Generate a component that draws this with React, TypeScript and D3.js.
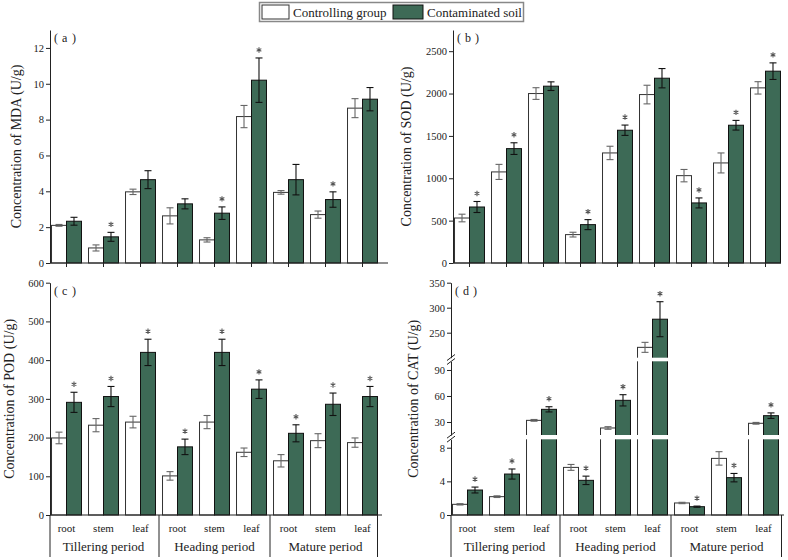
import { useEffect, useRef } from 'react';
import * as d3 from 'd3';

const organs = ['root', 'stem', 'leaf'];
const periods = ['Tillering period', 'Heading period', 'Mature period'];
const seriesNames = ['Controlling group', 'Contaminated soil'];

// MDA (U/g), 9 groups: period x organ
const mdaControl = [2.1, 0.84, 3.97, 2.63, 1.29, 8.17, 3.94, 2.7, 8.64];
const mdaControlErr = [0.05, 0.17, 0.15, 0.45, 0.12, 0.62, 0.1, 0.2, 0.53];
const mdaSoil = [2.33, 1.46, 4.65, 3.3, 2.78, 10.2, 4.65, 3.54, 9.14];
const mdaSoilErr = [0.22, 0.25, 0.5, 0.28, 0.35, 1.24, 0.85, 0.43, 0.65];
const mdaStars = [1, 4, 5, 7];
const mdaTicks = [0, 2, 4, 6, 8, 10, 12];

// SOD (U/g)
const sodControl = [531, 1075, 2000, 335, 1299, 1988, 1031, 1181, 2067];
const sodControlErr = [45, 89, 69, 28, 79, 110, 73, 118, 73];
const sodSoil = [661, 1350, 2087, 453, 1567, 2181, 709, 1626, 2264];
const sodSoilErr = [65, 69, 51, 59, 61, 114, 59, 57, 98];
const sodStars = [0, 1, 3, 4, 6, 7, 8];
const sodTicks = [0, 500, 1000, 1500, 2000, 2500];

// POD (U/g)
const podControl = [199, 232, 240, 101, 240, 162, 140, 192, 187];
const podControlErr = [15, 17, 15, 11, 17, 11, 16, 18, 12];
const podSoil = [291, 306, 420, 176, 420, 325, 211, 286, 306];
const podSoilErr = [26, 26, 34, 20, 34, 24, 22, 29, 26];
const podStars = [0, 1, 2, 3, 4, 5, 6, 7, 8];
const podTicks = [0, 100, 200, 300, 400, 500, 600];

// CAT (U/g), broken axis
const catControl = [1.27, 2.18, 31.9, 5.66, 23.1, 220.7, 1.43, 6.73, 28.5];
const catControlErr = [0.08, 0.1, 1, 0.35, 1.5, 10, 0.08, 0.8, 1];
const catSoil = [2.97, 4.87, 44.6, 4.12, 55, 277, 0.99, 4.44, 37.3];
const catSoilErr = [0.35, 0.6, 3, 0.5, 6.5, 35, 0.07, 0.5, 3.2];
const catStars = [0, 1, 2, 3, 4, 5, 6, 7, 8];
const catTicksLow = [0, 4, 8];
const catTicksMid = [30, 60, 90];
const catTicksHigh = [250, 300, 350];

const GREEN = '#3d6a56';
const FONT = '"Liberation Serif", "Times New Roman", serif';

type YFn = (v: number) => number;

interface Panel {
  axisX: number;
  top: number;
  base: number;
  xEnd: number;
  sepEnd: number;
  y: YFn;
  control: number[];
  controlErr: number[];
  soil: number[];
  soilErr: number[];
  stars: number[];
  letter: string;
  labelX: number;
  title: string;
  titleX: number;
  groupAxis: boolean;
}

const App = () => {
  const svgRef = useRef<SVGSVGElement>(null);

  useEffect(() => {
    if (!svgRef.current) return;
    const svg = d3.select(svgRef.current);
    svg.selectAll('*').remove();

    const yMda = d3.scaleLinear().domain([0, 13]).range([263, 30]);
    const ySod = d3.scaleLinear().domain([0, 2750]).range([263, 30]);
    const yPod = d3.scaleLinear().domain([0, 600]).range([515, 282.7]);
    const catLow = d3.scaleLinear().domain([0, 9]).range([515, 439.3]);
    const catMid = d3.scaleLinear().domain([15, 100]).range([435, 361.3]);
    const catHigh = d3.scaleLinear().domain([200, 350]).range([357.7, 282.7]);
    const yCat: YFn = v => (v <= 9 ? catLow(v) : v <= 100 ? catMid(v) : catHigh(v));

    const panels: Panel[] = [
      { axisX: 50, top: 30, base: 263, xEnd: 388, sepEnd: 0, y: yMda, control: mdaControl, controlErr: mdaControlErr,
        soil: mdaSoil, soilErr: mdaSoilErr, stars: mdaStars, letter: 'a', labelX: 54,
        title: 'Concentration of MDA (U/g)', titleX: 21, groupAxis: false },
      { axisX: 453, top: 30, base: 263, xEnd: 781, sepEnd: 0, y: ySod, control: sodControl, controlErr: sodControlErr,
        soil: sodSoil, soilErr: sodSoilErr, stars: sodStars, letter: 'b', labelX: 457,
        title: 'Concentration of SOD (U/g)', titleX: 411, groupAxis: false },
      { axisX: 50, top: 282.7, base: 515, xEnd: 382, sepEnd: 377.5, y: yPod, control: podControl, controlErr: podControlErr,
        soil: podSoil, soilErr: podSoilErr, stars: podStars, letter: 'c', labelX: 54,
        title: 'Concentration of POD (U/g)', titleX: 14, groupAxis: true },
      { axisX: 451, top: 282.7, base: 515, xEnd: 784, sepEnd: 781.5, y: yCat, control: catControl, controlErr: catControlErr,
        soil: catSoil, soilErr: catSoilErr, stars: catStars, letter: 'd', labelX: 455,
        title: 'Concentration of CAT (U/g)', titleX: 418, groupAxis: true },
    ];

    const styleAxis = (ax: d3.Selection<SVGGElement, unknown, null, undefined>) => {
      ax.select('.domain').attr('stroke', '#222');
      ax.selectAll('.tick line').attr('stroke', '#222');
      ax.selectAll('.tick text').attr('font-family', FONT).attr('font-size', 10.5).attr('fill', '#222');
    };

    const star = d3.symbol().type(d3.symbolAsterisk).size(20)();

    panels.forEach((p, pi) => {
      const g = svg.append('g');
      const x = d3.scaleBand<number>().domain(d3.range(9)).range([p.axisX - 2, p.axisX + 331]);
      const step = x.step();
      const bw = step * 0.405;
      const cx = (i: number) => (x(i) ?? 0) + step / 2;

      // bars
      g.selectAll('rect.ctrl')
        .data(p.control)
        .join('rect')
        .attr('x', (_, i) => cx(i) - bw)
        .attr('y', d => p.y(d))
        .attr('width', bw)
        .attr('height', d => p.base - p.y(d))
        .attr('fill', '#fff')
        .attr('stroke', '#333')
        .attr('stroke-width', 1);
      g.selectAll('rect.soil')
        .data(p.soil)
        .join('rect')
        .attr('x', (_, i) => cx(i))
        .attr('y', d => p.y(d))
        .attr('width', bw)
        .attr('height', d => p.base - p.y(d))
        .attr('fill', GREEN)
        .attr('stroke', '#111')
        .attr('stroke-width', 1);

      // error bars
      const drawErr = (vals: number[], errs: number[], off: number, color: string) => {
        vals.forEach((v, i) => {
          const xc = cx(i) + off;
          const y1 = p.y(v + errs[i]);
          const y2 = p.y(v - errs[i]);
          const eg = g.append('g').attr('stroke', color).attr('stroke-width', 1.1);
          eg.append('line').attr('x1', xc).attr('x2', xc).attr('y1', y1).attr('y2', y2);
          eg.append('line').attr('x1', xc - 3.5).attr('x2', xc + 3.5).attr('y1', y1).attr('y2', y1);
          eg.append('line').attr('x1', xc - 3.5).attr('x2', xc + 3.5).attr('y1', y2).attr('y2', y2);
        });
      };
      drawErr(p.control, p.controlErr, -bw / 2, '#666');
      drawErr(p.soil, p.soilErr, bw / 2, '#111');

      // significance marks
      g.selectAll('path.star')
        .data(p.stars)
        .join('path')
        .attr('d', star)
        .attr('transform', i => `translate(${cx(i) + bw / 2},${p.y(p.soil[i] + p.soilErr[i]) - 8})`)
        .attr('fill', 'none')
        .attr('stroke', '#555')
        .attr('stroke-width', 1.1);

      // broken axis gaps for CAT
      if (pi === 3) {
        const gaps = [[catHigh(200), catMid(100)], [catMid(15), catLow(9)]];
        gaps.forEach(([a, b]) => {
          g.append('rect')
            .attr('x', p.axisX - 6)
            .attr('y', a)
            .attr('width', p.xEnd - p.axisX + 6)
            .attr('height', b - a)
            .attr('fill', '#fff');
        });
        [catLow, catMid, catHigh].forEach((s, si) => {
          const ax = g.append('g')
            .attr('transform', `translate(${p.axisX},0)`)
            .call(d3.axisLeft(s).tickValues([catTicksLow, catTicksMid, catTicksHigh][si])
              .tickSizeInner(4).tickSizeOuter(0).tickPadding(2).tickFormat(d3.format('d')));
          styleAxis(ax);
        });
        gaps.forEach(([a, b]) => {
          const yc = (a + b) / 2;
          [-2, 2].forEach(dy => {
            g.append('line')
              .attr('x1', p.axisX - 4).attr('y1', yc + dy + 3)
              .attr('x2', p.axisX + 4).attr('y2', yc + dy - 3)
              .attr('stroke', '#222').attr('stroke-width', 1);
          });
        });
      } else {
        const s = p.y as d3.ScaleLinear<number, number>;
        const ticks = [mdaTicks, sodTicks, podTicks][pi];
        const ax = g.append('g')
          .attr('transform', `translate(${p.axisX},0)`)
          .call(d3.axisLeft(s).tickValues(ticks).tickSizeInner(4).tickSizeOuter(0).tickPadding(2).tickFormat(d3.format('d')));
        styleAxis(ax);
      }

      // x axis
      g.append('line')
        .attr('x1', p.axisX).attr('x2', p.xEnd)
        .attr('y1', p.base).attr('y2', p.base)
        .attr('stroke', '#222');

      if (!p.groupAxis) {
        d3.range(9).forEach(i => {
          g.append('line')
            .attr('x1', cx(i)).attr('x2', cx(i))
            .attr('y1', p.base).attr('y2', p.base + 4)
            .attr('stroke', '#222');
        });
      } else {
        const seps = [p.axisX, x(3) ?? 0, x(6) ?? 0, p.sepEnd];
        seps.forEach(sx => {
          g.append('line')
            .attr('x1', sx).attr('x2', sx)
            .attr('y1', p.base).attr('y2', p.base + 42)
            .attr('stroke', '#222');
        });
        d3.range(9).forEach(i => {
          g.append('text')
            .attr('x', cx(i)).attr('y', p.base + 17)
            .attr('text-anchor', 'middle')
            .attr('font-family', FONT).attr('font-size', 11).attr('fill', '#222')
            .text(organs[i % 3]);
        });
        periods.forEach((name, k) => {
          g.append('text')
            .attr('x', cx(k * 3 + 1)).attr('y', p.base + 36)
            .attr('text-anchor', 'middle')
            .attr('font-family', FONT).attr('font-size', 13).attr('fill', '#222')
            .text(name);
        });
      }

      // panel letter, spaced brackets
      const lt = g.append('text')
        .attr('y', p.top + 12)
        .attr('font-family', FONT).attr('font-size', 12).attr('fill', '#222');
      lt.append('tspan').attr('x', p.labelX).text('(');
      lt.append('tspan').attr('x', p.labelX + 8).text(p.letter);
      lt.append('tspan').attr('x', p.labelX + 18).text(')');

      // y title
      g.append('text')
        .attr('transform', `translate(${p.titleX},${(p.top + p.base) / 2}) rotate(-90)`)
        .attr('text-anchor', 'middle')
        .attr('font-family', FONT).attr('font-size', 14).attr('fill', '#222')
        .text(p.title);
    });

    // legend
    const lg = svg.append('g');
    lg.append('rect')
      .attr('x', 259.5).attr('y', 2.5).attr('width', 264).attr('height', 19)
      .attr('fill', '#fff').attr('stroke', '#888').attr('stroke-width', 1.5);
    const items = [
      { x: 262, w: 27, fill: '#fff', stroke: '#333' },
      { x: 393, w: 30, fill: GREEN, stroke: '#111' },
    ];
    items.forEach((it, k) => {
      lg.append('rect')
        .attr('x', it.x).attr('y', 5).attr('width', it.w).attr('height', 14)
        .attr('fill', it.fill).attr('stroke', it.stroke);
      lg.append('text')
        .attr('x', it.x + it.w + 4).attr('y', 16.5)
        .attr('font-family', FONT).attr('font-size', 13).attr('fill', '#222')
        .text(seriesNames[k]);
    });
  }, []);

  return (
    <div style={{ position: 'absolute', left: 0, top: 0, background: '#fff' }}>
      <svg ref={svgRef} width={788} height={560} />
    </div>
  );
};

export default App;
